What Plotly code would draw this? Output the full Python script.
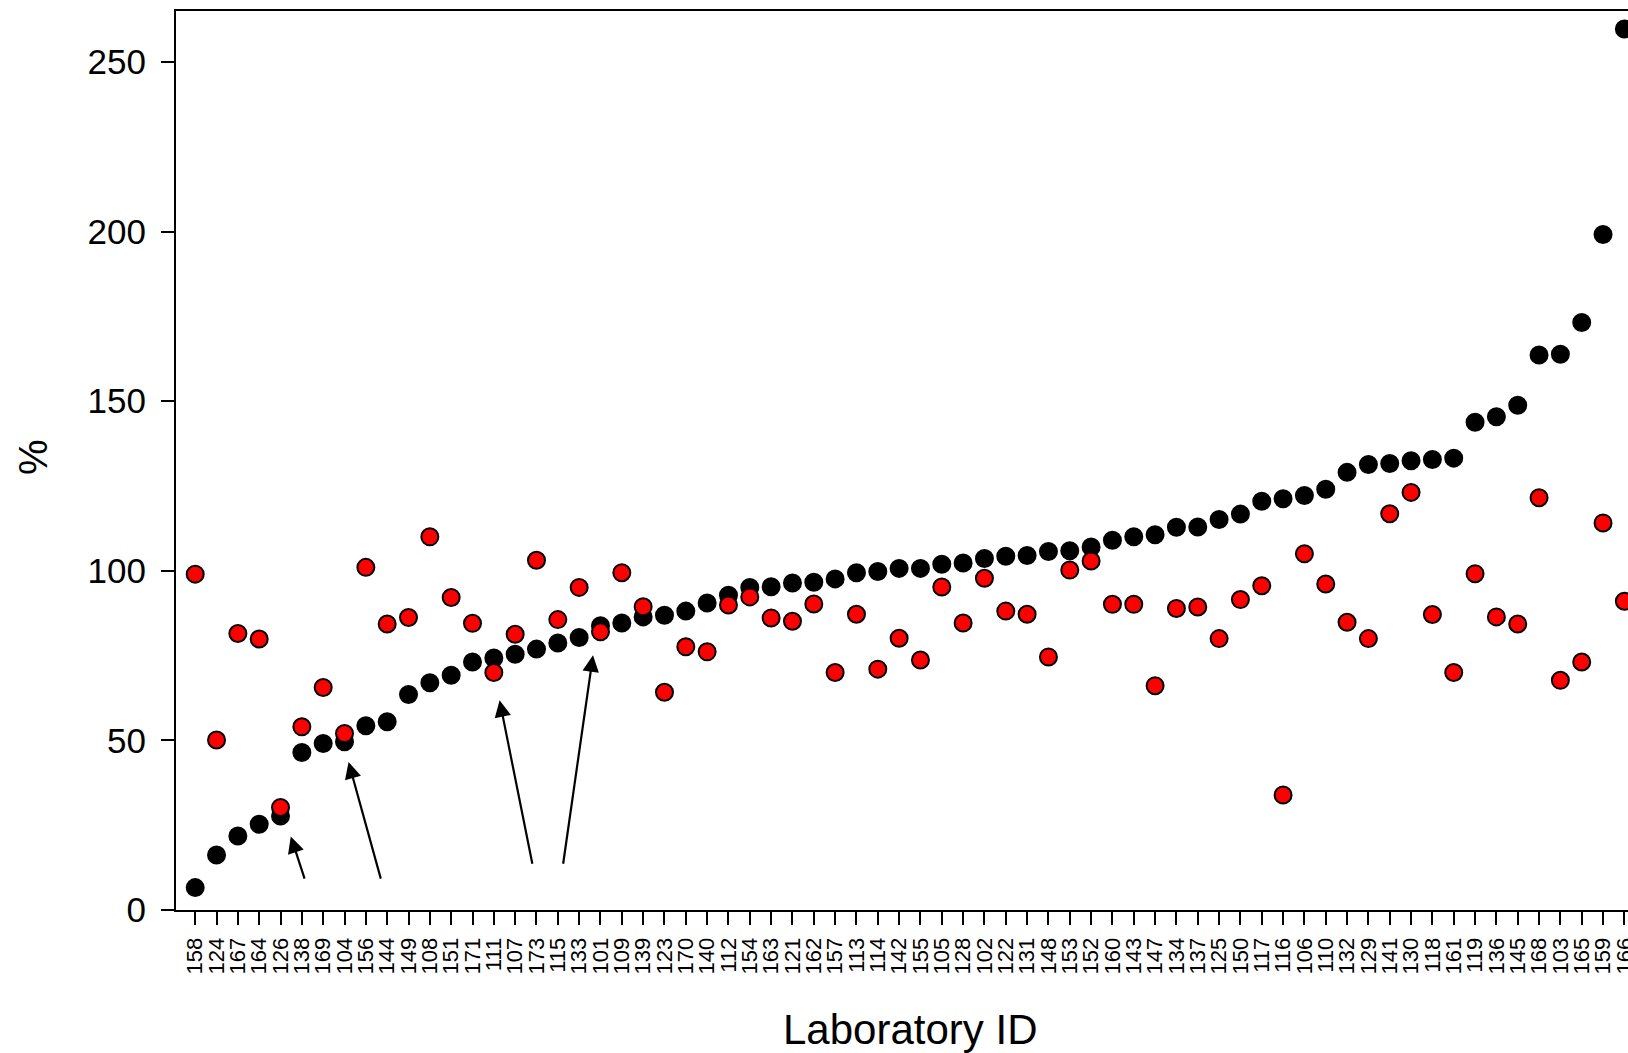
import plotly.graph_objects as go

# Laboratory IDs in plotting order (sorted by the black series)
lab_ids = ["158", "124", "167", "164", "126", "138", "169", "104", "156", "144",
           "149", "108", "151", "171", "111", "107", "173", "115", "133", "101",
           "109", "139", "123", "170", "140", "112", "154", "163", "121", "162",
           "157", "113", "114", "142", "155", "105", "128", "102", "122", "131",
           "148", "153", "152", "160", "143", "147", "134", "137", "125", "150",
           "117", "116", "106", "110", "132", "129", "141", "130", "118", "161",
           "119", "136", "145", "168", "103", "165", "159", "166"]

# Black series (%)
black_pct = [6.6, 16.2, 21.8, 25.3, 27.7, 46.4, 49.1, 49.6, 54.3, 55.5,
             63.5, 67.0, 69.2, 73.1, 74.3, 75.4, 76.9, 78.7, 80.3, 83.8,
             84.6, 86.4, 86.9, 88.1, 90.5, 92.8, 95.1, 95.3, 96.4, 96.6,
             97.6, 99.4, 99.8, 100.7, 100.7, 101.9, 102.3, 103.6, 104.3, 104.5,
             105.7, 105.9, 107.0, 109.0, 110.0, 110.6, 112.8, 112.9, 115.1, 116.7,
             120.5, 121.2, 122.2, 124.0, 129.0, 131.3, 131.6, 132.4, 132.8, 133.2,
             143.8, 145.4, 148.8, 163.6, 163.8, 173.2, 199.1, 259.7]

# Red series (%)
red_pct = [99.0, 50.1, 81.5, 79.9, 30.2, 54.0, 65.6, 52.0, 101.0, 84.3,
           86.2, 110.0, 92.1, 84.5, 70.0, 81.3, 103.1, 85.6, 95.1, 82.0,
           99.4, 89.4, 64.2, 77.6, 76.1, 89.9, 92.3, 86.1, 85.1, 90.2,
           70.0, 87.2, 71.0, 80.1, 73.7, 95.2, 84.6, 97.8, 88.1, 87.2,
           74.6, 100.2, 102.9, 90.1, 90.1, 66.1, 88.9, 89.3, 80.0, 91.5,
           95.6, 33.9, 105.0, 96.1, 84.8, 80.0, 116.8, 123.1, 87.1, 70.0,
           99.1, 86.4, 84.3, 121.5, 67.7, 73.1, 114.1, 91.0]

y_ticks = [0, 50, 100, 150, 200, 250]

# Arrows: (tail x, tail y, head x, head y) in axis units
arrows = [(5.15, 8.8, 4.48, 21.7),
          (8.72, 8.8, 7.19, 43.6),
          (15.82, 13.2, 14.27, 61.8),
          (17.24, 13.2, 18.65, 75.1)]

FONT = "Liberation Sans, Arial, Helvetica, sans-serif"
pos = list(range(len(lab_ids)))

fig = go.Figure()
fig.add_trace(go.Scatter(
    x=pos, y=black_pct, mode="markers",
    marker=dict(size=17, color="black", line=dict(color="black", width=2)),
    showlegend=False, hoverinfo="skip"))
fig.add_trace(go.Scatter(
    x=pos, y=red_pct, mode="markers",
    marker=dict(size=17, color="#ff0000", line=dict(color="black", width=2)),
    showlegend=False, hoverinfo="skip"))

annotations = []
for tx, ty, hx, hy in arrows:
    annotations.append(dict(
        x=hx, y=hy, ax=tx, ay=ty, xref="x", yref="y", axref="x", ayref="y",
        text="", showarrow=True, arrowhead=2, arrowsize=1.5, arrowwidth=2.2,
        arrowcolor="black", standoff=0, startstandoff=0))

annotations.append(dict(
    text="%", xref="paper", yref="paper", x=-0.0985, y=0.504,
    xanchor="center", yanchor="middle", textangle=-90, showarrow=False,
    borderpad=0, font=dict(family=FONT, size=40, color="black")))
annotations.append(dict(
    text="Laboratory ID", xref="paper", yref="paper", x=0.5053, y=-0.133,
    xanchor="center", yanchor="middle", showarrow=False, borderpad=0,
    font=dict(family=FONT, size=42, color="black")))

fig.update_layout(
    width=1628, height=1053,
    margin=dict(l=176, r=0, t=11, b=143, autoexpand=False),
    paper_bgcolor="white", plot_bgcolor="white",
    font=dict(family=FONT, color="black"),
    annotations=annotations,
    xaxis=dict(
        range=[-0.90, 67.17], tickmode="array", tickvals=pos, ticktext=lab_ids,
        tickangle=-90, ticks="outside", ticklen=13, tickwidth=2, tickcolor="black",
        tickfont=dict(family=FONT, size=22, color="black"),
        ticklabeloverflow="allow", ticklabelstandoff=4, automargin=False,
        showline=True, linewidth=2, linecolor="black", mirror=True,
        showgrid=False, zeroline=False),
    yaxis=dict(
        range=[0, 265], tickmode="array", tickvals=y_ticks,
        ticks="outside", ticklen=13, tickwidth=2, tickcolor="black",
        tickfont=dict(family=FONT, size=35, color="black"),
        ticklabelstandoff=8, automargin=False,
        showline=True, linewidth=2, linecolor="black",
        showgrid=False, zeroline=False),
)

fig.write_html("out.html")
